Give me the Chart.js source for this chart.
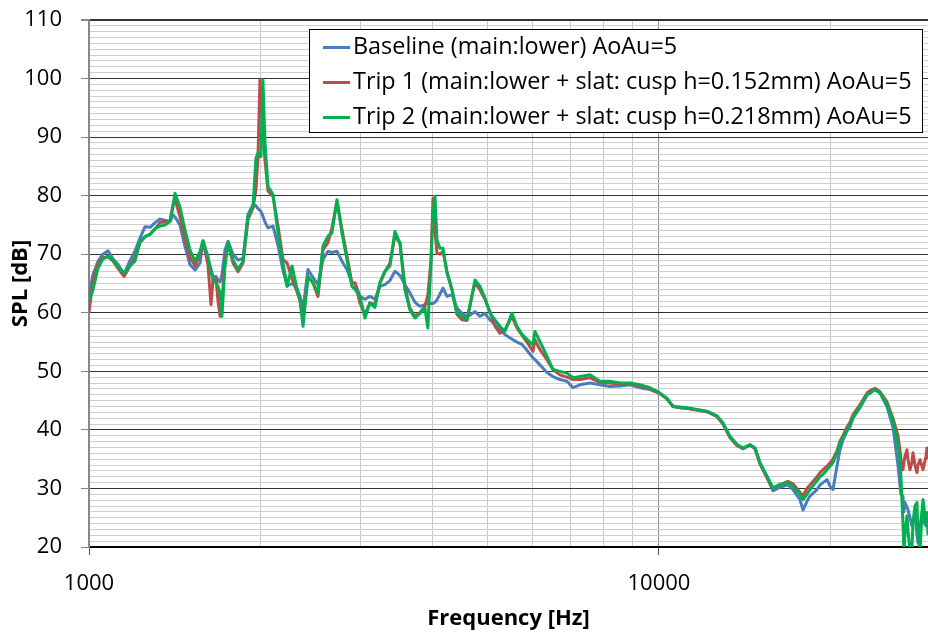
<!DOCTYPE html>
<html>
<head>
<meta charset="utf-8">
<title>SPL spectrum</title>
<script src="https://cdn.jsdelivr.net/npm/chart.js@4.4.1/dist/chart.umd.min.js"></script>
<style>
  html, body { margin: 0; padding: 0; background: #fff; }
  #wrap { position: relative; width: 928px; height: 633px; overflow: hidden; }
  #legend {
    position: absolute; left: 309px; top: 29px; width: 614px; height: 104px;
    box-sizing: border-box; border: 1px solid #000; background: #fff;
    font-family: 'Open Sans', sans-serif; font-size: 23.4px; color: #000;
  }
  #legend .rows { position: absolute; left: 13px; top: -2px; }
  #legend .row { height: 34.75px; line-height: 34.75px; white-space: nowrap; }
  #legend .swatch { display: inline-block; width: 27px; height: 3px; margin-right: 3px; vertical-align: middle; }
</style>
</head>
<body>
<div id="wrap">
  <canvas id="spl" width="928" height="633"></canvas>
  <div id="legend"><div class="rows"></div></div>
</div>
<script>
// frequency points (Hz) shared by all three runs
var freqHz = [
  1000, 1016, 1037, 1058, 1080, 1102, 1124, 1152, 1180, 1204,
  1229, 1254, 1280, 1306, 1332, 1359, 1387, 1404, 1415, 1444,
  1474, 1504, 1535, 1566, 1585, 1617, 1637, 1650, 1671, 1684,
  1698, 1711, 1732, 1754, 1789, 1826, 1863, 1901, 1940, 1963,
  1979, 1995, 2003, 2019, 2036, 2061, 2103, 2146, 2190, 2226,
  2271, 2317, 2345, 2374, 2422, 2472, 2522, 2574, 2626, 2668,
  2723, 2779, 2835, 2893, 2929, 2988, 3049, 3111, 3174, 3239,
  3305, 3373, 3441, 3512, 3583, 3656, 3731, 3807, 3884, 3931,
  3981, 4013, 4046, 4079, 4129, 4179, 4247, 4334, 4422, 4512,
  4604, 4679, 4756, 4853, 4951, 5052, 5155, 5260, 5367, 5521,
  5634, 5749, 5866, 6010, 6059, 6182, 6360, 6516, 6702, 6896,
  7066, 7268, 7568, 7880, 8204, 8541, 8894, 9261, 9643, 10000,
  10329, 10582, 10886, 11197, 11659, 12139, 12637, 12949, 13321, 13706,
  14043, 14445, 14740, 15041, 15472, 15849, 16303, 16839, 17183, 17677,
  17893, 18184, 18406, 18935, 19166, 19399, 19717, 19953, 20196, 20525,
  20776, 21029, 21373, 21634, 21898, 22527, 23174, 23456, 23935, 24424,
  25119, 25735, 26260, 26473, 26580, 26796, 26904, 27013, 27233, 27343,
  27565, 27789, 27902, 28128, 28357, 28472, 28705, 28938, 29055, 29409,
  29529, 29648
];

// Baseline (main:lower)
var splBaseline = [
  63.0, 66.5, 68.8, 70.0, 70.6, 69.2, 68.3, 66.6, 68.9, 70.5,
  72.8, 74.7, 74.6, 75.4, 76.0, 75.8, 75.6, 76.7, 76.4, 75.0,
  71.3, 68.2, 67.3, 68.5, 72.2, 69.0, 67.5, 66.2, 66.2, 65.5,
  65.3, 66.5, 70.7, 72.2, 70.0, 69.0, 69.3, 76.8, 78.5, 78.3,
  77.8, 77.5, 77.3, 76.5, 75.5, 74.5, 74.8, 71.5, 67.2, 64.6,
  65.0, 64.2, 62.8, 60.6, 67.4, 66.0, 64.8, 69.1, 70.5, 70.3,
  70.5, 68.8, 67.4, 65.1, 65.1, 62.8, 62.3, 62.8, 62.3, 64.5,
  64.8, 65.5, 67.1, 66.4, 64.8, 63.4, 61.8, 61.1, 61.4, 61.6,
  61.6, 61.6, 61.8, 62.2, 63.2, 64.2, 62.8, 63.1, 60.8, 59.9,
  59.4, 59.7, 60.2, 59.4, 59.9, 58.8, 58.0, 57.2, 56.3, 55.5,
  55.0, 54.6, 53.6, 52.3, 52.0, 51.1, 49.8, 49.1, 48.6, 48.3,
  47.2, 47.7, 48.0, 47.7, 47.4, 47.5, 47.7, 47.2, 46.9, 46.3,
  45.3, 44.0, 43.8, 43.7, 43.4, 43.1, 42.3, 41.1, 38.8, 37.4,
  36.8, 37.4, 36.8, 34.2, 31.8, 29.6, 30.2, 30.6, 29.8, 28.1,
  26.3, 27.8, 28.7, 29.8, 30.6, 31.0, 31.5, 30.4, 29.8, 33.8,
  36.6, 38.3, 39.8, 40.5, 42.0, 43.8, 45.9, 46.3, 46.9, 46.3,
  44.0, 40.5, 34.0, 30.5, 29.0, 28.7, 26.0, 27.6, 26.8, 26.4,
  25.0, 23.6, 24.5, 25.9, 22.0, 20.7, 23.5, 25.9, 24.5, 23.6,
  24.5, 25.0
];

// Trip 1 (cusp h=0.152mm)
var splTrip1 = [
  60.0, 65.5, 68.3, 69.4, 69.6, 68.8, 67.6, 66.2, 68.0, 69.5,
  72.0, 73.0, 73.4, 74.3, 75.4, 75.5, 75.6, 78.5, 79.5, 76.4,
  72.5, 69.5, 68.0, 70.0, 72.2, 68.2, 61.4, 65.5, 65.8, 62.0,
  59.4, 62.0, 69.0, 71.9, 68.5, 67.0, 68.5, 75.9, 77.9, 81.0,
  86.5, 99.8, 97.0, 91.0, 86.0, 80.8, 79.9, 74.8, 69.1, 68.5,
  65.8, 63.6, 62.0, 58.9, 66.2, 65.1, 62.8, 70.8, 72.0, 74.5,
  79.0, 74.2, 69.7, 65.1, 65.1, 61.7, 59.7, 61.7, 61.4, 65.1,
  67.0, 68.5, 73.1, 71.9, 64.5, 60.8, 59.4, 60.0, 61.1, 63.0,
  69.0, 79.5, 74.0, 70.2, 70.0, 70.5, 67.0, 64.0, 59.7, 58.8,
  58.7, 62.0, 65.1, 63.9, 62.3, 60.2, 57.7, 56.5, 57.1, 59.4,
  57.4, 56.2, 55.0, 53.4, 55.4, 53.7, 52.0, 50.3, 49.4, 49.0,
  48.6, 48.6, 48.9, 48.1, 48.0, 47.8, 47.8, 47.5, 47.0, 46.3,
  45.3, 44.0, 43.8, 43.7, 43.4, 43.1, 42.3, 41.0, 38.7, 37.3,
  36.8, 37.4, 36.8, 34.2, 31.9, 30.0, 30.6, 31.2, 30.8, 29.3,
  28.8, 30.0, 30.6, 32.0, 32.7, 33.2, 33.8, 34.4, 35.0, 36.4,
  38.1, 39.0, 40.5, 41.3, 42.6, 44.3, 46.3, 46.7, 47.1, 46.5,
  44.8, 42.0, 39.0, 36.6, 35.0, 33.2, 34.5, 35.5, 36.6, 35.0,
  33.2, 34.5, 36.1, 34.0, 32.7, 34.0, 34.9, 33.8, 33.2, 35.5,
  36.9, 35.0
];

// Trip 2 (cusp h=0.218mm)
var splTrip2 = [
  62.0, 63.9, 67.6, 69.2, 69.6, 69.0, 67.8, 66.8, 68.0, 68.8,
  72.2, 73.0, 73.4, 74.4, 74.8, 75.0, 75.6, 78.1, 80.4, 78.1,
  74.1, 70.7, 68.8, 70.5, 72.3, 69.6, 67.0, 65.6, 65.1, 64.5,
  63.4, 59.4, 67.9, 72.0, 69.0, 67.4, 68.8, 76.5, 78.2, 86.4,
  87.3, 86.7, 86.7, 99.8, 89.0, 81.6, 80.2, 73.6, 68.5, 64.5,
  68.0, 64.0, 62.3, 57.7, 66.2, 65.1, 63.4, 71.4, 73.1, 73.6,
  79.3, 73.6, 69.1, 64.5, 64.0, 62.8, 59.1, 61.7, 60.9, 65.1,
  67.1, 68.0, 73.9, 71.9, 63.9, 60.5, 59.1, 59.9, 60.8, 57.4,
  68.5, 77.0, 79.9, 72.4, 71.0, 71.0, 66.8, 63.9, 59.9, 59.4,
  58.8, 62.2, 65.6, 64.5, 62.5, 59.9, 58.8, 57.7, 56.8, 59.9,
  57.7, 56.3, 55.5, 54.5, 56.8, 55.1, 52.6, 50.3, 50.0, 49.7,
  48.9, 49.1, 49.4, 48.3, 48.3, 48.0, 48.0, 47.7, 47.2, 46.4,
  45.4, 44.0, 43.9, 43.8, 43.5, 43.2, 42.4, 41.2, 38.9, 37.5,
  36.9, 37.5, 36.9, 34.4, 32.1, 30.1, 30.7, 31.0, 30.4, 29.0,
  28.1, 29.0, 29.8, 31.3, 32.0, 32.4, 33.2, 33.8, 34.4, 36.0,
  37.8, 38.6, 40.1, 40.8, 42.2, 44.0, 46.0, 46.3, 46.9, 46.3,
  44.4, 41.5, 37.5, 35.0, 32.0, 24.0, 19.0, 22.0, 25.3, 23.0,
  19.0, 20.2, 24.0, 27.0, 27.6, 22.0, 19.0, 26.0, 28.1, 24.0,
  25.9, 22.0
];

var seriesNames = [
  'Baseline (main:lower) AoAu=5',
  'Trip 1 (main:lower + slat: cusp h=0.152mm) AoAu=5',
  'Trip 2 (main:lower + slat: cusp h=0.218mm) AoAu=5'
];
var seriesColors = ['#4A7EBB', '#BE4B48', '#00B050'];

// vertical grid lines and the two labelled decades
var xGridHz = [1000, 2000, 3000, 4000, 5000, 6000, 7000, 8000, 9000, 10000, 20000];
var xLabelHz = [1000, 10000];

function points(values) {
  return freqHz.map(function (f, i) { return { x: f, y: values[i] }; });
}

Chart.defaults.font.family = "'Open Sans', sans-serif";
Chart.defaults.color = '#000';

var ctx = document.getElementById('spl').getContext('2d');
var myChart = new Chart(ctx, {
  type: 'line',
  data: {
    datasets: [
      { label: seriesNames[0], data: points(splBaseline), borderColor: seriesColors[0], order: 3 },
      { label: seriesNames[1], data: points(splTrip1), borderColor: seriesColors[1], order: 2 },
      { label: seriesNames[2], data: points(splTrip2), borderColor: seriesColors[2], order: 1 }
    ]
  },
  options: {
    responsive: false,
    animation: false,
    layout: { padding: { top: 20, right: 0, bottom: 0, left: 0 } },
    elements: {
      line: { borderWidth: 3, tension: 0, borderJoinStyle: 'round' },
      point: { radius: 0 }
    },
    plugins: {
      legend: { display: false },
      tooltip: { enabled: false }
    },
    scales: {
      x: {
        type: 'logarithmic',
        min: 1000,
        max: 29648,
        afterBuildTicks: function (scale) {
          scale.ticks = xGridHz.map(function (v) { return { value: v }; });
        },
        afterFit: function (scale) {
          scale.height = 86;
          scale.paddingLeft = 0;
          scale.paddingRight = 0;
        },
        ticks: {
          autoSkip: false,
          maxRotation: 0,
          padding: 16,
          font: { size: 22 },
          callback: function (v) { return xLabelHz.indexOf(v) >= 0 ? String(v) : ''; }
        },
        grid: {
          tickLength: 8,
          color: function (c) { return c.tick && c.tick.value === 10000 ? '#8a8a8a' : '#c8c8c8'; },
          tickColor: function (c) { return c.tick && xLabelHz.indexOf(c.tick.value) >= 0 ? '#555' : 'rgba(0,0,0,0)'; }
        },
        border: { color: '#000', width: 2 },
        title: {
          display: true,
          text: 'Frequency [Hz]',
          font: { size: 22, weight: 'bold' },
          padding: { top: 0, bottom: 1 }
        }
      },
      y: {
        type: 'linear',
        min: 20,
        max: 110,
        afterFit: function (scale) {
          scale.width = 89;
          scale.paddingTop = 0;
          scale.paddingBottom = 0;
        },
        ticks: {
          stepSize: 1,
          autoSkip: false,
          padding: 19,
          font: { size: 22 },
          callback: function (v) { return v % 10 === 0 ? String(v) : ''; }
        },
        grid: {
          tickLength: 8,
          color: function (c) { return c.tick && c.tick.value % 10 === 0 ? '#333' : '#cfcfcf'; },
          lineWidth: function (c) { return c.tick && c.tick.value === 110 ? 2 : 1; },
          tickColor: function (c) { return c.tick && c.tick.value % 10 === 0 ? '#868686' : 'rgba(0,0,0,0)'; }
        },
        border: { color: '#868686', width: 2 },
        title: {
          display: true,
          text: 'SPL [dB]',
          font: { size: 22, weight: 'bold' },
          padding: { top: 8, bottom: 0 }
        }
      }
    }
  }
});

// legend box inside the plot, top right
var rows = document.querySelector('#legend .rows');
seriesNames.forEach(function (name, i) {
  var row = document.createElement('div');
  row.className = 'row';
  var sw = document.createElement('span');
  sw.className = 'swatch';
  sw.style.background = seriesColors[i];
  row.appendChild(sw);
  row.appendChild(document.createTextNode(name));
  rows.appendChild(row);
});
</script>
</body>
</html>
